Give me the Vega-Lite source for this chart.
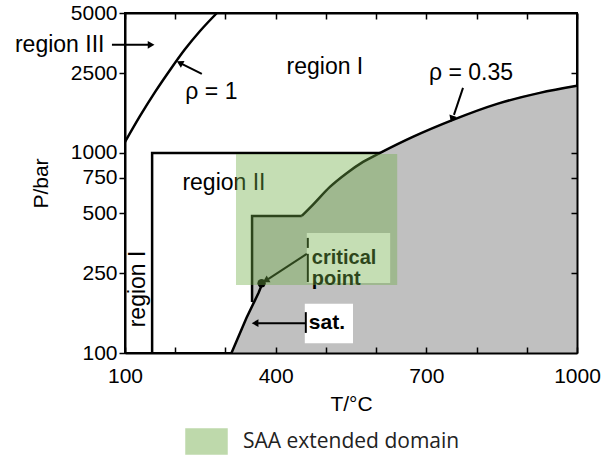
{
  "$schema": "https://vega.github.io/schema/vega-lite/v6.json",
  "width": 452,
  "height": 340,
  "autosize": {"type": "none"},
  "padding": {"left": 125, "top": 13, "right": 26, "bottom": 110},
  "background": "white",
  "config": {
    "view": {"stroke": "black", "strokeWidth": 2},
    "font": "Liberation Sans",
    "axis": {
      "domainColor": "black", "domainWidth": 2, "tickColor": "black", "tickWidth": 1.5,
      "labelColor": "black", "labelFont": "Liberation Sans", "labelFontSize": 21,
      "titleFont": "Liberation Sans", "titleFontSize": 21, "titleFontWeight": "normal",
      "titleColor": "black", "grid": false, "labelFlush": false
    }
  },
  "resolve": {"axis": {"x": "independent", "y": "independent"}},
  "encoding": {
    "x": {"field": "T", "type": "quantitative", "scale": {"domain": [100, 1000], "nice": false, "zero": false}, "axis": null},
    "y": {"field": "P", "type": "quantitative", "scale": {"type": "log", "domain": [100, 5000], "nice": false}, "axis": null}
  },
  "layer": [
    {
      "data": {"values": [
        {"T": 312, "P": 100, "P0": 100}, {"T": 342, "P": 150, "P0": 100}, {"T": 353, "P": 172, "P0": 100},
        {"T": 353, "P": 484, "P0": 100}, {"T": 452, "P": 484, "P0": 100}
      ]},
      "mark": {"type": "area", "color": "#c0c0c0", "opacity": 1},
      "encoding": {
        "x": {"field": "T", "type": "quantitative", "scale": {"domain": [100, 1000], "nice": false, "zero": false},
          "axis": {"orient": "bottom", "zindex": 2, "values": [100, 200, 300, 400, 500, 600, 700, 800, 900, 1000], "format": "d",
            "labelExpr": "(datum.value - 100) % 300 == 0 ? datum.label : ''",
            "tickSize": -6, "labelPadding": 18, "title": "T/°C", "titlePadding": 7}},
        "y": {"field": "P", "type": "quantitative", "stack": null, "scale": {"type": "log", "domain": [100, 5000], "nice": false},
          "axis": {"orient": "left", "zindex": 2, "values": [100, 250, 500, 750, 1000, 2500, 5000], "format": "d",
            "tickSize": 6, "labelPadding": 2, "title": "P/bar", "titlePadding": 19}},
        "y2": {"field": "P0"}
      }
    },
    {
      "data": {"values": [
        {"T": 452, "P": 484, "P0": 100}, {"T": 474, "P": 550, "P0": 100}, {"T": 508, "P": 676, "P0": 100},
        {"T": 542, "P": 794, "P0": 100}, {"T": 574, "P": 902, "P0": 100}, {"T": 608, "P": 1000, "P0": 100},
        {"T": 673, "P": 1202, "P0": 100}, {"T": 753, "P": 1462, "P0": 100}, {"T": 841, "P": 1758, "P0": 100},
        {"T": 926, "P": 1995, "P0": 100}, {"T": 1000, "P": 2163, "P0": 100}
      ]},
      "mark": {"type": "area", "color": "#c0c0c0", "opacity": 1, "interpolate": "monotone", "stroke": "#c0c0c0", "strokeWidth": 1.5},
      "encoding": {
        "y": {"field": "P", "type": "quantitative", "stack": null, "scale": {"type": "log", "domain": [100, 5000], "nice": false}, "axis": null},
        "y2": {"field": "P0"}
      }
    },
    {
      "data": {"values": [
        {"T": 462, "T2": 628, "P": 224, "P2": 398},
        {"T": 458, "T2": 554, "P": 112, "P2": 176}
      ]},
      "mark": {"type": "rect", "color": "white"},
      "encoding": {
        "x": {"field": "T", "type": "quantitative", "scale": {"domain": [100, 1000], "nice": false, "zero": false},
          "axis": {"orient": "top", "zindex": 2, "values": [100, 200, 300, 400, 500, 600, 700, 800, 900, 1000],
            "labels": false, "tickSize": -6, "title": null}},
        "y": {"field": "P", "type": "quantitative", "scale": {"type": "log", "domain": [100, 5000], "nice": false},
          "axis": {"orient": "right", "zindex": 2, "values": [250, 500, 750, 1000, 2500], "labels": false, "tickSize": -6, "title": null}},
        "x2": {"field": "T2"},
        "y2": {"field": "P2"}
      }
    },
    {
      "data": {"values": [
        {"seg": "a", "i": 0, "T": 353, "P": 180}, {"seg": "a", "i": 1, "T": 353, "P": 484},
        {"seg": "a", "i": 2, "T": 452, "P": 484},
        {"seg": "b", "i": 0, "T": 312, "P": 100}, {"seg": "b", "i": 1, "T": 342, "P": 150},
        {"seg": "b", "i": 2, "T": 366, "P": 200}, {"seg": "b", "i": 3, "T": 373, "P": 221},
        {"seg": "d", "i": 0, "T": 154, "P": 100}, {"seg": "d", "i": 1, "T": 154, "P": 1000},
        {"seg": "d", "i": 2, "T": 608, "P": 1000}
      ]},
      "mark": {"type": "line", "color": "black", "strokeWidth": 2.5},
      "encoding": {
        "detail": {"field": "seg", "type": "nominal"},
        "order": {"field": "i", "type": "quantitative"}
      }
    },
    {
      "data": {"values": [
        {"seg": "a", "T": 452, "P": 484}, {"seg": "a", "T": 474, "P": 550}, {"seg": "a", "T": 508, "P": 676},
        {"seg": "a", "T": 542, "P": 794}, {"seg": "a", "T": 574, "P": 902}, {"seg": "a", "T": 608, "P": 1000},
        {"seg": "a", "T": 673, "P": 1202}, {"seg": "a", "T": 753, "P": 1462}, {"seg": "a", "T": 841, "P": 1758},
        {"seg": "a", "T": 926, "P": 1995}, {"seg": "a", "T": 1000, "P": 2163},
        {"seg": "c", "T": 100, "P": 1133}, {"seg": "c", "T": 130, "P": 1529},
        {"seg": "c", "T": 160, "P": 2017}, {"seg": "c", "T": 190, "P": 2604},
        {"seg": "c", "T": 219, "P": 3285}, {"seg": "c", "T": 249, "P": 4053},
        {"seg": "c", "T": 283, "P": 5000}
      ]},
      "mark": {"type": "line", "color": "black", "strokeWidth": 2.5, "interpolate": "monotone"},
      "encoding": {
        "detail": {"field": "seg", "type": "nominal"}
      }
    },
    {
      "data": {"values": [{"T": 372, "P": 223}]},
      "mark": {"type": "point", "filled": true, "color": "black", "size": 70, "opacity": 1},
      "encoding": {}
    },
    {
      "data": {"values": [
        {"T": 74, "T2": 150, "P": 3467, "P2": 3467},
        {"T": 253, "T2": 213, "P": 2483, "P2": 2786},
        {"T": 773, "T2": 755, "P": 2113, "P2": 1549},
        {"T": 462, "T2": 385, "P": 313, "P2": 234},
        {"T": 464, "T2": 464, "P": 313, "P2": 226},
        {"T": 464, "T2": 464, "P": 376, "P2": 335},
        {"T": 460, "T2": 365, "P": 141, "P2": 141},
        {"T": 460, "T2": 460, "P": 160, "P2": 126}
      ]},
      "mark": {"type": "rule", "color": "black", "strokeWidth": 2},
      "encoding": {"x2": {"field": "T2"}, "y2": {"field": "P2"}}
    },
    {
      "data": {"values": [{"T": 152, "P": 3467}]},
      "mark": {"type": "point", "shape": "triangle-right", "filled": true, "color": "black", "size": 60, "opacity": 1},
      "encoding": {}
    },
    {
      "data": {"values": [{"T": 209, "P": 2818}]},
      "mark": {"type": "point", "shape": "triangle-left", "angle": 28, "filled": true, "color": "black", "size": 60, "opacity": 1},
      "encoding": {}
    },
    {
      "data": {"values": [{"T": 751, "P": 1479}]},
      "mark": {"type": "point", "shape": "triangle-down", "angle": 19, "filled": true, "color": "black", "size": 60, "opacity": 1},
      "encoding": {}
    },
    {
      "data": {"values": [{"T": 380, "P": 230}]},
      "mark": {"type": "point", "shape": "triangle-left", "angle": 331, "filled": true, "color": "black", "size": 60, "opacity": 1},
      "encoding": {}
    },
    {
      "data": {"values": [{"T": 359, "P": 141}]},
      "mark": {"type": "point", "shape": "triangle-left", "filled": true, "color": "black", "size": 60, "opacity": 1},
      "encoding": {}
    },
    {
      "data": {"values": [
        {"label": "region III", "T": -30, "P": 3467},
        {"label": "region I", "T": 498, "P": 2692},
        {"label": "region II", "T": 297, "P": 708},
        {"label": "ρ = 1", "T": 272, "P": 2018},
        {"label": "ρ = 0.35", "T": 789, "P": 2512}
      ]},
      "mark": {"type": "text", "font": "Liberation Sans", "fontSize": 23, "color": "black", "align": "center", "baseline": "middle"},
      "encoding": {"text": {"field": "label"}}
    },
    {
      "data": {"values": [{"label": "region I", "T": 126, "P": 209}]},
      "mark": {"type": "text", "font": "Liberation Sans", "fontSize": 23, "color": "black", "align": "center", "baseline": "middle", "angle": 270},
      "encoding": {"text": {"field": "label"}}
    },
    {
      "data": {"values": [{"label": "critical\npoint", "T": 472, "P": 300}]},
      "mark": {"type": "text", "font": "Liberation Sans", "fontSize": 20, "fontWeight": "bold", "color": "black", "align": "left", "baseline": "middle", "lineBreak": "\n", "lineHeight": 21},
      "encoding": {"text": {"field": "label"}}
    },
    {
      "data": {"values": [{"label": "sat.", "T": 466, "P": 141}]},
      "mark": {"type": "text", "font": "Liberation Sans", "fontSize": 21, "fontWeight": "bold", "color": "black", "align": "left", "baseline": "middle"},
      "encoding": {"text": {"field": "label"}}
    },
    {
      "data": {"values": [{"name": "SAA extended domain", "T": 323, "T2": 640, "P": 221, "P2": 977}]},
      "mark": {"type": "rect", "opacity": 0.4, "stroke": "#70ad47", "strokeWidth": 2},
      "encoding": {
        "x2": {"field": "T2"},
        "y2": {"field": "P2"},
        "fill": {"field": "name", "type": "nominal", "scale": {"range": ["#70ad47"]},
          "legend": {"title": null, "orient": "none", "legendX": 60, "legendY": 407, "padding": 0,
            "symbolType": "M-1,-0.6H1V0.6H-1Z", "symbolSize": 1600, "labelFont": "Open Sans",
            "labelFontSize": 21, "labelOffset": 15, "labelColor": "#222222", "labelLimit": 500,
            "symbolOpacity": 0.45, "symbolStrokeColor": "#70ad47", "symbolStrokeWidth": 2.5}}
      }
    }
  ]
}
